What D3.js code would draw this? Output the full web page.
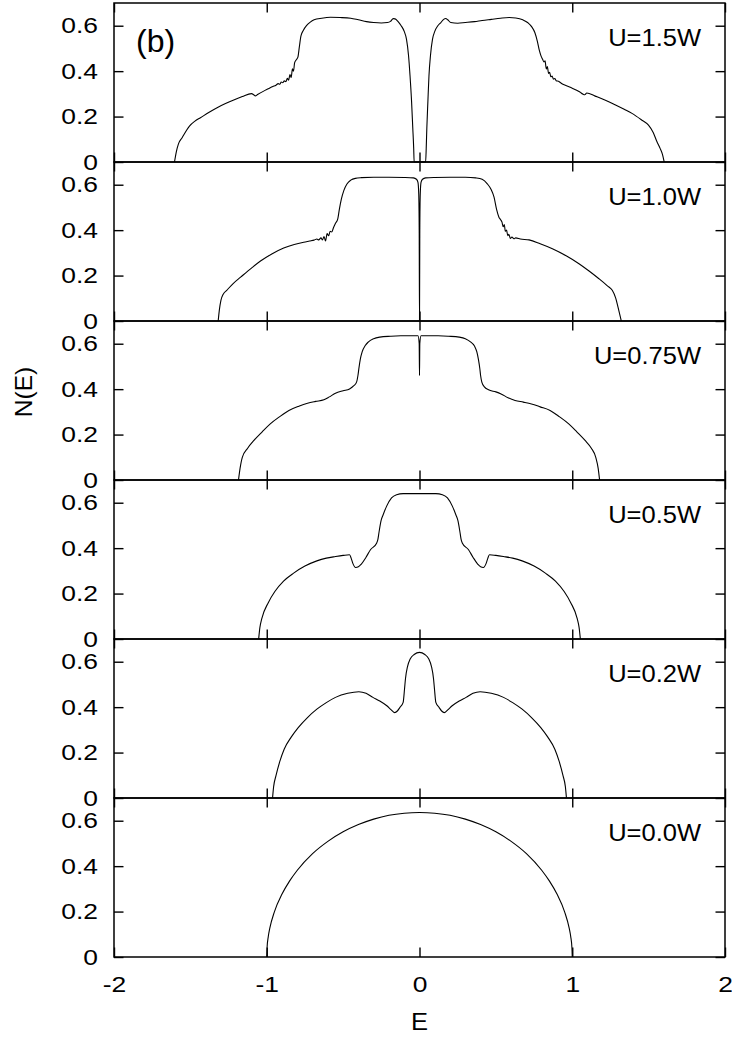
<!DOCTYPE html>
<html>
<head>
<meta charset="utf-8">
<script src="https://cdn.jsdelivr.net/npm/d3@7"></script>
<style>
  body { margin: 0; background: #fff; }
  svg text { font-family: "Liberation Sans", Arial, Helvetica, sans-serif; fill: #000; }
</style>
</head>
<body>
<svg id="chart" width="732" height="1038"></svg>
<script>
// panel labels, top to bottom
const panelLabels = ["U=1.5W", "U=1.0W", "U=0.75W", "U=0.5W", "U=0.2W", "U=0.0W"];
const xTicks = [-2, -1, 0, 1, 2];
const yTicks = [0, 0.2, 0.4, 0.6];

// [E, N(E)]
const dos15 = [[-1.604,0],[-1.592,0.045],[-1.578,0.08],[-1.554,0.107],[-1.525,0.14],[-1.506,0.158],[-1.47,0.18],[-1.434,0.195],[-1.38,0.218],[-1.325,0.239],[-1.27,0.257],[-1.216,0.273],[-1.16,0.288],[-1.10,0.301],[-1.085,0.296],[-1.075,0.291],[-1.06,0.297],[-1.02,0.312],[-0.99,0.322],[-0.96,0.332],[-0.94,0.338],[-0.925,0.345],[-0.915,0.342],[-0.905,0.352],[-0.895,0.349],[-0.885,0.357],[-0.875,0.354],[-0.865,0.368],[-0.857,0.36],[-0.848,0.385],[-0.84,0.372],[-0.832,0.41],[-0.825,0.40],[-0.818,0.435],[-0.81,0.447],[-0.796,0.462],[-0.786,0.51],[-0.776,0.555],[-0.76,0.58],[-0.74,0.600],[-0.715,0.616],[-0.69,0.626],[-0.64,0.633],[-0.583,0.637],[-0.52,0.636],[-0.45,0.633],[-0.40,0.626],[-0.347,0.618],[-0.30,0.614],[-0.25,0.612],[-0.21,0.614],[-0.19,0.619],[-0.172,0.631],[-0.16,0.630],[-0.14,0.618],[-0.12,0.600],[-0.10,0.575],[-0.085,0.54],[-0.072,0.47],[-0.062,0.38],[-0.052,0.268],[-0.044,0.15],[-0.038,0.06],[-0.035,0],
  [0.040,0],[0.044,0.06],[0.048,0.15],[0.055,0.268],[0.062,0.38],[0.072,0.47],[0.085,0.54],[0.10,0.575],[0.12,0.600],[0.14,0.614],[0.158,0.628],[0.172,0.632],[0.185,0.626],[0.205,0.614],[0.25,0.611],[0.30,0.614],[0.36,0.618],[0.41,0.623],[0.47,0.628],[0.53,0.633],[0.587,0.636],[0.63,0.634],[0.676,0.626],[0.71,0.613],[0.735,0.595],[0.755,0.57],[0.772,0.53],[0.785,0.49],[0.796,0.466],[0.806,0.452],[0.815,0.44],[0.822,0.445],[0.83,0.41],[0.837,0.42],[0.845,0.39],[0.852,0.395],[0.86,0.375],[0.868,0.378],[0.877,0.365],[0.886,0.367],[0.895,0.358],[0.91,0.355],[0.93,0.346],[0.958,0.337],[1.0,0.325],[1.05,0.308],[1.072,0.298],[1.082,0.296],[1.095,0.304],[1.15,0.290],[1.217,0.272],[1.28,0.252],[1.34,0.232],[1.391,0.214],[1.45,0.187],[1.499,0.162],[1.53,0.13],[1.554,0.09],[1.575,0.06],[1.59,0.035],[1.602,0]];

const dos10 = [[-1.318,0],[-1.31,0.05],[-1.30,0.091],[-1.285,0.118],[-1.262,0.135],[-1.22,0.165],[-1.171,0.193],[-1.10,0.233],[-1.041,0.264],[-0.97,0.294],[-0.889,0.321],[-0.82,0.337],[-0.758,0.347],[-0.72,0.352],[-0.69,0.356],[-0.672,0.361],[-0.66,0.357],[-0.645,0.366],[-0.635,0.357],[-0.625,0.372],[-0.615,0.352],[-0.605,0.385],[-0.595,0.375],[-0.585,0.395],[-0.575,0.392],[-0.562,0.413],[-0.55,0.43],[-0.535,0.45],[-0.525,0.49],[-0.512,0.535],[-0.495,0.575],[-0.475,0.603],[-0.45,0.620],[-0.42,0.628],[-0.38,0.631],[-0.30,0.633],[-0.20,0.633],[-0.10,0.632],[-0.04,0.630],[-0.02,0.624],[-0.01,0.61],[-0.005,0.56],[-0.002,0.4],[0,0],[0.002,0.4],[0.005,0.56],[0.01,0.61],[0.02,0.624],[0.04,0.630],[0.10,0.632],[0.20,0.633],[0.30,0.633],[0.368,0.630],[0.41,0.624],[0.444,0.604],[0.468,0.58],[0.488,0.545],[0.505,0.49],[0.52,0.457],[0.53,0.447],[0.54,0.435],[0.548,0.415],[0.555,0.425],[0.562,0.395],[0.57,0.40],[0.578,0.375],[0.585,0.382],[0.595,0.363],[0.605,0.37],[0.618,0.362],[0.63,0.366],[0.66,0.361],[0.717,0.357],[0.79,0.340],[0.870,0.318],[0.96,0.287],[1.044,0.252],[1.11,0.22],[1.175,0.186],[1.23,0.155],[1.262,0.135],[1.285,0.10],[1.30,0.06],[1.321,0]];

const dos075 = [[-1.185,0],[-1.175,0.05],[-1.160,0.10],[-1.125,0.14],[-1.084,0.174],[-1.03,0.212],[-0.977,0.247],[-0.915,0.279],[-0.855,0.306],[-0.79,0.325],[-0.733,0.338],[-0.68,0.346],[-0.626,0.353],[-0.59,0.366],[-0.55,0.382],[-0.50,0.393],[-0.458,0.401],[-0.43,0.415],[-0.412,0.431],[-0.403,0.46],[-0.397,0.49],[-0.388,0.53],[-0.375,0.565],[-0.355,0.592],[-0.336,0.607],[-0.30,0.622],[-0.260,0.629],[-0.19,0.633],[-0.122,0.635],[-0.05,0.635],[-0.01,0.635],[-0.002,0.60],[0,0.46],[0.002,0.60],[0.01,0.635],[0.05,0.635],[0.122,0.635],[0.19,0.633],[0.26,0.629],[0.30,0.622],[0.336,0.607],[0.36,0.59],[0.375,0.565],[0.386,0.53],[0.395,0.49],[0.40,0.46],[0.408,0.431],[0.425,0.41],[0.452,0.397],[0.50,0.388],[0.534,0.379],[0.58,0.362],[0.626,0.350],[0.68,0.343],[0.733,0.335],[0.79,0.322],[0.855,0.306],[0.915,0.279],[0.977,0.247],[1.03,0.212],[1.084,0.174],[1.125,0.14],[1.154,0.10],[1.17,0.05],[1.179,0]];

const dos05 = [[-1.053,0],[-1.045,0.05],[-1.032,0.091],[-0.99,0.16],[-0.947,0.209],[-0.89,0.255],[-0.824,0.290],[-0.75,0.321],[-0.672,0.344],[-0.61,0.356],[-0.550,0.363],[-0.50,0.368],[-0.458,0.371],[-0.447,0.355],[-0.437,0.334],[-0.418,0.315],[-0.40,0.318],[-0.382,0.329],[-0.35,0.36],[-0.321,0.393],[-0.281,0.422],[-0.272,0.44],[-0.265,0.47],[-0.252,0.52],[-0.238,0.547],[-0.215,0.585],[-0.183,0.621],[-0.15,0.635],[-0.107,0.640],[0,0.640],[0.107,0.640],[0.15,0.635],[0.183,0.621],[0.215,0.585],[0.238,0.547],[0.252,0.52],[0.265,0.47],[0.272,0.44],[0.281,0.422],[0.321,0.393],[0.35,0.36],[0.382,0.329],[0.40,0.318],[0.418,0.315],[0.437,0.334],[0.447,0.355],[0.458,0.371],[0.50,0.368],[0.550,0.363],[0.61,0.356],[0.672,0.344],[0.75,0.321],[0.824,0.290],[0.89,0.255],[0.947,0.209],[0.99,0.16],[1.032,0.091],[1.045,0.05],[1.053,0]];

const dos02 = [[-0.962,0],[-0.955,0.05],[-0.940,0.097],[-0.915,0.16],[-0.886,0.215],[-0.84,0.268],[-0.794,0.310],[-0.735,0.353],[-0.672,0.391],[-0.61,0.42],[-0.550,0.443],[-0.47,0.461],[-0.397,0.468],[-0.35,0.461],[-0.305,0.443],[-0.26,0.427],[-0.214,0.406],[-0.185,0.388],[-0.162,0.376],[-0.145,0.383],[-0.128,0.399],[-0.107,0.421],[-0.098,0.48],[-0.092,0.524],[-0.078,0.58],[-0.061,0.612],[-0.035,0.632],[0,0.641],[0.035,0.632],[0.061,0.612],[0.078,0.58],[0.092,0.524],[0.098,0.48],[0.107,0.421],[0.128,0.399],[0.145,0.383],[0.162,0.376],[0.185,0.388],[0.214,0.406],[0.26,0.427],[0.305,0.443],[0.35,0.461],[0.397,0.468],[0.47,0.461],[0.550,0.443],[0.61,0.42],[0.672,0.391],[0.735,0.353],[0.794,0.310],[0.84,0.268],[0.886,0.215],[0.915,0.16],[0.940,0.097],[0.955,0.05],[0.962,0]];

const dos00 = [[-1,0],[-0.998,0.04],[-0.99,0.09],[-0.98,0.127],[-0.95,0.199],[-0.9,0.277],[-0.85,0.335],[-0.8,0.382],[-0.7,0.455],[-0.6,0.509],[-0.5,0.551],[-0.4,0.583],[-0.3,0.607],[-0.2,0.624],[-0.1,0.633],[0,0.636],[0.1,0.633],[0.2,0.624],[0.3,0.607],[0.4,0.583],[0.5,0.551],[0.6,0.509],[0.7,0.455],[0.8,0.382],[0.85,0.335],[0.9,0.277],[0.95,0.199],[0.98,0.127],[0.99,0.09],[0.998,0.04],[1,0]];

const panels = [dos15, dos10, dos075, dos05, dos02, dos00];

const svg = d3.select("#chart");
const left = 114, right = 725, top0 = 3, panelH = 159;
// the original lettering is wider than Liberation Sans
const tickStretch = 1.2, labelStretch = 1.11;

const x = d3.scaleLinear().domain([-2, 2]).range([left, right]);
const y = d3.scaleLinear().domain([0, 0.7]).range([panelH, 0]);
const fmt = d => d === 0 ? "0" : d.toFixed(1);

const line = d3.line()
  .x(d => x(d[0]))
  .y(d => y(d[1]))
  .curve(d3.curveMonotoneX);

panels.forEach((data, i) => {
  const g = svg.append("g").attr("transform", `translate(0,${top0 + i * panelH})`);

  // inward ticks on all four sides
  g.append("g")
    .attr("transform", `translate(0,${panelH})`)
    .call(d3.axisBottom(x).tickValues(xTicks).tickSizeInner(-9.5).tickSizeOuter(0)
      .tickPadding(19.5).tickFormat(i === panels.length - 1 ? d => d : ""));
  g.append("g")
    .call(d3.axisTop(x).tickValues(xTicks).tickSizeInner(-9.5).tickSizeOuter(0).tickFormat(""));
  g.append("g")
    .attr("transform", `translate(${left},0)`)
    .call(d3.axisLeft(y).tickValues(yTicks).tickSizeInner(-9.5).tickSizeOuter(0)
      .tickPadding(13.3).tickFormat(fmt));
  g.append("g")
    .attr("transform", `translate(${right},0)`)
    .call(d3.axisRight(y).tickValues(yTicks).tickSizeInner(-9.5).tickSizeOuter(0).tickFormat(""));

  g.selectAll(".domain").remove();
  g.selectAll(".tick line").attr("stroke", "#000").attr("stroke-width", 1.4);
  g.selectAll(".tick text")
    .attr("font-size", 22)
    .attr("transform", `scale(${tickStretch},1)`);

  g.append("rect")
    .attr("x", left).attr("y", 0)
    .attr("width", right - left).attr("height", panelH)
    .attr("fill", "none").attr("stroke", "#000").attr("stroke-width", 1.5);

  g.append("path")
    .datum(data)
    .attr("fill", "none")
    .attr("stroke", "#000")
    .attr("stroke-width", 1.1)
    .attr("d", line);

  g.append("text")
    .attr("text-anchor", "end")
    .attr("font-size", 23)
    .attr("transform", `translate(701,43) scale(${labelStretch},1)`)
    .text(panelLabels[i]);
});

svg.append("text")
  .attr("font-size", 32)
  .attr("transform", "translate(136,52)")
  .text("(b)");

svg.append("text")
  .attr("text-anchor", "middle")
  .attr("font-size", 24.5)
  .attr("transform", "translate(32,392) rotate(-90)")
  .text("N(E)");

svg.append("text")
  .attr("text-anchor", "middle")
  .attr("font-size", 23)
  .attr("transform", `translate(${x(0)},1030) scale(${labelStretch},1)`)
  .text("E");
</script>
</body>
</html>
